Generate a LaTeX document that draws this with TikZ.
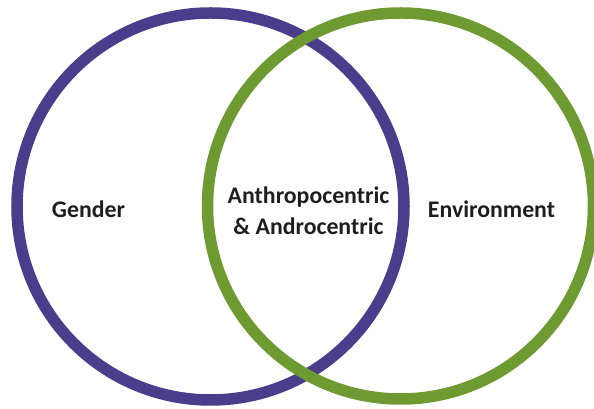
\documentclass[tikz,border=0pt]{standalone}
\usepackage{fontspec}
\setmainfont{Carlito}
\definecolor{ringpurple}{RGB}{74,61,140}
\definecolor{ringgreen}{RGB}{110,154,50}
\definecolor{labelgray}{RGB}{30,30,30}
\begin{document}
\begin{tikzpicture}[x=1pt,y=1pt,
  ring/.style={line width=11.5pt},
  label/.style={font=\fontsize{23.8}{31}\selectfont\bfseries, text=labelgray, align=center, inner sep=0pt}]
  \useasboundingbox (0,0) rectangle (594,409);
  \clip (0,0) rectangle (594,409);
  \fill[white] (0,0) rectangle (594,409);
  % two overlapping rings, the green one over the purple one
  \draw[ring, ringpurple] (210.5,202.5) circle (193.5);
  \draw[ring, ringgreen] (400.5,203) circle (193);
  % labels
  \node[label] (gender) at (88.5,199.5) {Gender};
  \node[label] (overlap) at (308.5,198.5) {Anthropocentric\\\& Androcentric};
  \node[label] (environment) at (491.5,199.5) {Environment};
\end{tikzpicture}
\end{document}
